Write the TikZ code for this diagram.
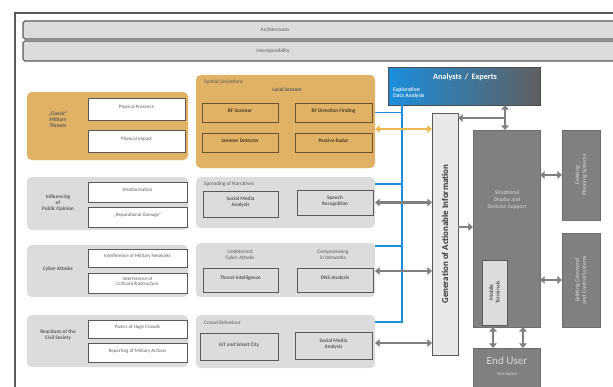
\documentclass[tikz,border=0pt]{standalone}
\usepackage{fontspec}
\setmainfont{Carlito}
\usetikzlibrary{arrows.meta,fit,calc}
\definecolor{ylw}{HTML}{DFB265}
\definecolor{brn}{HTML}{6B5230}
\definecolor{grp}{HTML}{DCDCDC}
\definecolor{dk}{HTML}{595959}
\definecolor{sitg}{HTML}{808080}
\definecolor{bl}{HTML}{1B8EDD}
\definecolor{org}{HTML}{F0B850}
\begin{document}
\begin{tikzpicture}[x=0.03cm, y=-0.03cm, >={Triangle[length=4pt,width=6.5pt]},
	fitbox/.style={inner sep=0pt, outer sep=0pt},
	bar/.style={fitbox, draw=dk, fill=grp, line width=0.9pt, rounded corners=1.5pt},
	ygrp/.style={fitbox, fill=ylw, rounded corners=4pt},
	ggrp/.style={fitbox, fill=grp, rounded corners=4pt},
	wbox/.style={fitbox, draw=dk, line width=0.8pt, fill=white, font=\fontsize{4.2}{4.8}\selectfont, text=dk, align=center},
	ybox/.style={fitbox, draw=brn, line width=0.8pt, fill=ylw, font=\fontsize{4.5}{5.1}\selectfont\bfseries, text=brn!70!black, align=center},
	mbox/.style={fitbox, draw=dk, line width=0.8pt, fill=grp, font=\fontsize{4.5}{5.1}\selectfont\bfseries, text=dk, align=center},
	lbl/.style={font=\fontsize{4.5}{5.1}\selectfont\bfseries, text=dk, align=center},
	note/.style={font=\fontsize{4.5}{5.1}\selectfont, text=dk, align=center},
	dbox/.style={fitbox, fill=sitg, draw=sitg!85!black, line width=0.6pt},
	garr/.style={draw=gray, line width=2.2pt},
	bline/.style={draw=bl, line width=1.6pt}]
	\useasboundingbox (0,0) rectangle (613,386);
	\clip (0,0) rectangle (613,386);
	% frame
	\draw[line width=1pt, dk] (15,392) -- (15,13) -- (620,13);
	% top bars
	\node[bar, fit={(23,21) (625,39)}] (arch) {};
	\node[note] (archtxt) at (275,30) {Architectures};
	\node[bar, fit={(23,41) (625,61)}] (interop) {};
	\node[note] (interoptxt) at (273,51) {Interoperability};
	% classic threats
	\node[ygrp, fit={(27,92) (188,160)}] (mil) {};
	\node[lbl] (miltxt) at (58,120) {„Classic“\\Military\\Threats};
	\node[wbox, fit={(88,98) (185,120)}] (pp) {Physical Presence};
	\node[wbox, fit={(88,130) (185,152)}] (pi) {Physical Impact};
	% local sensors
	\node[ygrp, fit={(196,75) (375,168)}] (sens) {};
	\node[note, anchor=west] (senst) at (200,82) {Spatial Limitations};
	\node[lbl] (sensl) at (287,90) {Local Sensors};
	\node[ybox, fit={(202,103) (278,122)}] (rfs) {RF Scanner};
	\node[ybox, fit={(295,103) (372,122)}] (rfd) {RF Direction Finding};
	\node[ybox, fit={(202,133) (278,152)}] (jam) {Jammer Detector};
	\node[ybox, fit={(295,133) (372,152)}] (prad) {Passive Radar};
	% public opinion
	\node[ggrp, fit={(27,177) (188,230)}] (pub) {};
	\node[lbl] (pubtxt) at (58,203) {Influencing\\of\\Public Opinion};
	\node[wbox, fit={(88,182) (187,202)}] (dis) {Disinformation};
	\node[wbox, fit={(88,207) (187,227)}] (rep) {„Reputational Damage“};
	\node[ggrp, fit={(196,177) (375,228)}] (nar) {};
	\node[note, anchor=west] (nart) at (200,184) {Spreading of Narratives};
	\node[mbox, fit={(203,191) (278,217)}] (sma) {Social Media\\Analysis};
	\node[mbox, fit={(297,190) (373,215)}] (spr) {Speech\\Recognition};
	% cyber attacks
	\node[ggrp, fit={(27,245) (188,297)}] (cyb) {};
	\node[lbl] (cybtxt) at (58,269) {Cyber Attacks};
	\node[wbox, fit={(88,249) (187,267)}] (imn) {Interference of Military Networks};
	\node[wbox, fit={(88,273) (187,293)}] (ici) {Interference of\\Critical Infrastructure};
	\node[ggrp, fit={(196,243) (375,297)}] (cybm) {};
	\node[note] (unc) at (240,255) {Undetected\\Cyber Attacks};
	\node[note] (cmp) at (333,255) {Compromising\\in Networks};
	\node[mbox, fit={(203,268) (278,292)}] (thr) {Threat Intelligence};
	\node[mbox, fit={(297,268) (373,292)}] (dns) {DNS Analysis};
	% civil society
	\node[ggrp, fit={(27,315) (188,367)}] (civ) {};
	\node[lbl] (civtxt) at (58,335) {Reactions of the\\Civil Society};
	\node[wbox, fit={(88,320) (187,338)}] (pan) {Panics of Huge Crowds};
	\node[wbox, fit={(88,343) (187,362)}] (rma) {Reporting of Military Actions};
	\node[ggrp, fit={(196,315) (375,368)}] (crowd) {};
	\node[note, anchor=west] (crowdt) at (200,323) {Crowd Behaviour};
	\node[mbox, fit={(200,333) (278,360)}] (iot) {IoT and Smart City};
	\node[mbox, fit={(295,332) (372,359)}] (smb) {Social Media\\Analysis};
	% analysts
	\node[fitbox, left color=bl, right color=gray!75!black, draw=gray!60!black, line width=0.6pt, fit={(388,67) (540,105)}] (ana) {};
	\node[font=\fontsize{7}{8}\selectfont\bfseries, text=white] (anat) at (465,77) {Analysts \,/\, Experts};
	\node[font=\fontsize{4.8}{5.6}\selectfont\bfseries, text=white!85!bl, anchor=west, align=left] (anae) at (389,93) {Exploration\\Data Analysis};
	% generation of actionable information
	\node[fitbox, fill=gray!18, draw=dk, line width=0.8pt, fit={(432,113) (458,355)}] (gen) {};
	\node[rotate=90, font=\fontsize{7.6}{8.4}\selectfont\bfseries, text=black!80] (gent) at (gen.center) {Generation of Actionable Information};
	% situational display
	\node[dbox, fit={(473,130) (540,327)}] (sit) {};
	\node[font=\fontsize{4.8}{6}\selectfont, text=white!85!black, align=center] (sitt) at (507,200) {Situational\\Display and\\Decision Support};
	\node[fitbox, fill=grp, draw=dk, line width=0.6pt, fit={(482,260) (507,325)}] (mob) {};
	\node[rotate=90, font=\fontsize{4.8}{5.6}\selectfont\bfseries, text=dk, align=center] (mobt) at (mob.center) {Mobile\\Terminals};
	\node[dbox, fit={(473,348) (540,392)}] (eu) {};
	\node[font=\fontsize{9.5}{10}\selectfont, text=white!85!black] (eut) at (507,361) {End User};
	\node[font=\fontsize{4}{4.6}\selectfont, text=white!85!black] (eus) at (507,374) {info-based};
	\node[dbox, fit={(562,130) (600,220)}] (plan) {};
	\node[rotate=90, font=\fontsize{5}{6}\selectfont, text=white!85!black, align=center] (plant) at (plan.center) {Existing\\Planning Systems};
	\node[dbox, fit={(562,233) (600,327)}] (cc) {};
	\node[rotate=90, font=\fontsize{5}{6}\selectfont, text=white!85!black, align=center] (cct) at (cc.center) {Existing Command\\and Control Systems};
	% blue data lines
	\coordinate (bx) at (402,0);
	\coordinate (by) at (0,322);
	\draw[bline] (ana.south -| bx) -- (bx |- by) -- (crowd.east |- by);
	\draw[bline] (sens.east |- rfd.east) -- (rfd.east -| bx);
	\draw[bline] (nar.east |- nart) -- (nart -| bx);
	\draw[bline] (cybm.east |- cmp.north) -- (cmp.north -| bx);
	% arrows into generation
	\coordinate (oy) at (0,129);
	\draw[org, line width=2pt, <->] (sens.east |- oy) -- (gen.west |- oy);
	\draw[garr, <->] (nar.east |- spr) -- (gen.west |- spr);
	\coordinate (cy) at (0,271);
	\draw[garr, <->] (cybm.east |- cy) -- (gen.west |- cy);
	\coordinate (ry) at (0,343);
	\draw[garr, <->] (crowd.east |- ry) -- (gen.west |- ry);
	% arrows on the right
	\coordinate (tj) at (505,118);
	\draw[garr, <->] (ana.south -| tj) -- (sit.north -| tj);
	\draw[garr, ->] (tj) -- (gen.east |- tj);
	\coordinate (gy) at (0,227);
	\draw[garr, ->] (gen.east |- gy) -- (sit.west |- gy);
	\coordinate (py) at (0,175);
	\draw[garr, <->] (sit.east |- py) -- (plan.west |- py);
	\coordinate (qy) at (0,280);
	\draw[garr, <->] (sit.east |- qy) -- (cc.west |- qy);
	\foreach \u in {493,523} {
		\draw[garr, <->] (sit.south -| \u,0) -- (eu.north -| \u,0);
	}
\end{tikzpicture}
\end{document}
